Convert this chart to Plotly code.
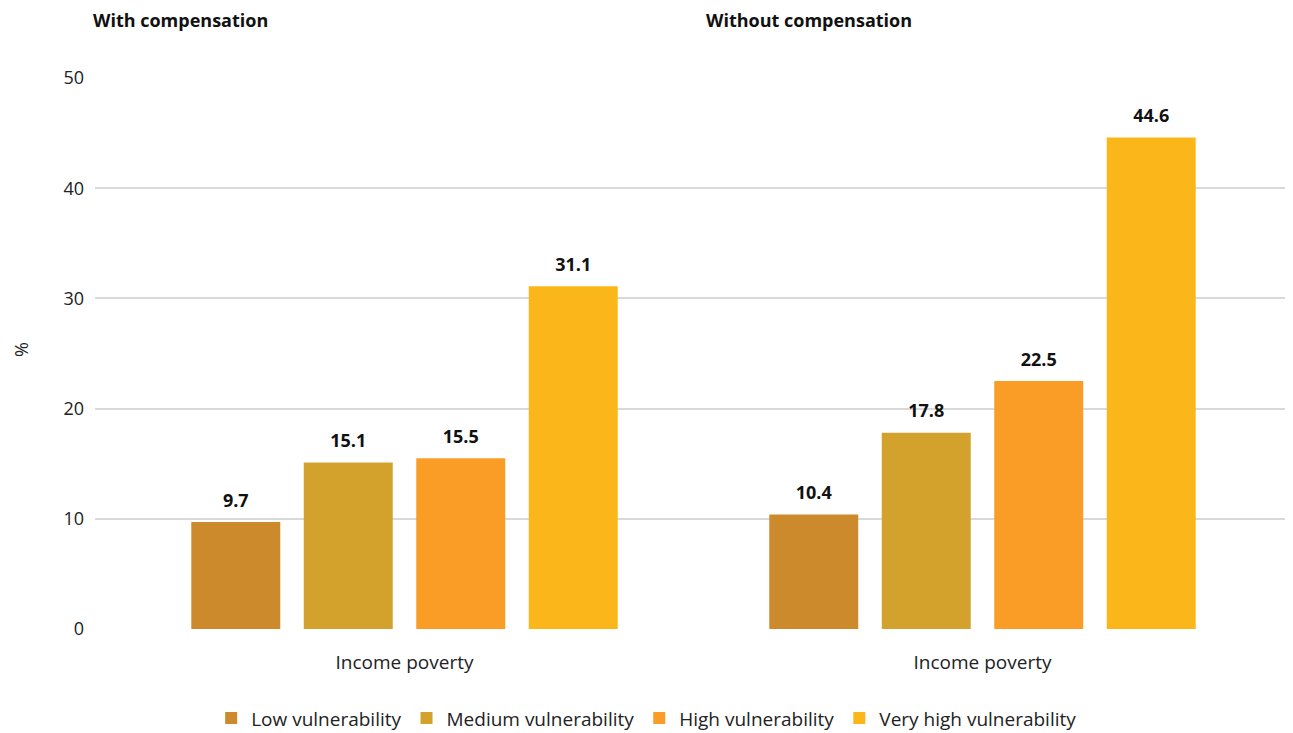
import plotly.graph_objects as go

groups = ["With compensation", "Without compensation"]
tick_label = "Income poverty"
series_names = ["Low vulnerability", "Medium vulnerability", "High vulnerability", "Very high vulnerability"]
low = [9.7, 10.4]
medium = [15.1, 17.8]
high = [15.5, 22.5]
very_high = [31.1, 44.6]
colors = ["#CD8A2D", "#D3A22D", "#F99D27", "#FBB719"]

FONT = "'Open Sans', 'Noto Sans', sans-serif"
TXT = "#222222"

fig = go.Figure()
for name, vals, col in zip(series_names, [low, medium, high, very_high], colors):
    fig.add_trace(go.Bar(
        x=groups, y=vals, name=name, marker=dict(color=col, line=dict(width=0)),
        text=[f"<span style='font-size:18px'><b>{v:.1f}</b></span><br> " for v in vals],
        textposition="outside",
        textfont=dict(family=FONT, size=8, color="#111111"),
        cliponaxis=False,
    ))

# page body has an 8px default margin, so the figure is sized/offset to compensate
fig.update_layout(
    width=1285, height=725,
    margin=dict(l=87, r=1, t=70, b=104, autoexpand=False),
    paper_bgcolor="white", plot_bgcolor="white",
    barmode="group", bargap=0.2215, bargroupgap=0.209,
    font=dict(family=FONT, size=18, color=TXT),
    showlegend=True,
    legend=dict(orientation="h", xref="container", x=0.497, xanchor="center",
                y=-0.162, yanchor="middle",
                font=dict(family=FONT, size=19, color=TXT), itemwidth=30,
                traceorder="normal"),
    xaxis=dict(type="category", range=[-0.5355, 1.5355], tickmode="array",
               tickvals=groups, ticktext=[tick_label, tick_label], automargin=False,
               showgrid=False, zeroline=False, showline=False, ticks="",
               ticklabelstandoff=20, tickfont=dict(family=FONT, size=19, color=TXT)),
    yaxis=dict(range=[0, 50], dtick=10, showgrid=True, gridcolor="#D9D9D9", gridwidth=2,
               zeroline=False, showline=False, ticks="", ticklabelstandoff=10, automargin=False,
               tickfont=dict(family=FONT, size=18, color=TXT)),
    annotations=[
        dict(text="%", x=-0.062, y=0.508, xref="paper", yref="paper", textangle=-90,
             xanchor="center", yanchor="middle", showarrow=False,
             font=dict(family=FONT, size=18, color=TXT)),
        dict(text="<b>With compensation</b>", x=-0.0035, y=1.105, xref="paper", yref="paper",
             xanchor="left", yanchor="middle", showarrow=False,
             font=dict(family=FONT, size=18, color="#111111")),
        dict(text="<b>Without compensation</b>", x=0.509, y=1.105, xref="paper", yref="paper",
             xanchor="left", yanchor="middle", showarrow=False,
             font=dict(family=FONT, size=18, color="#111111")),
    ],
)

fig.write_html("out.html")
